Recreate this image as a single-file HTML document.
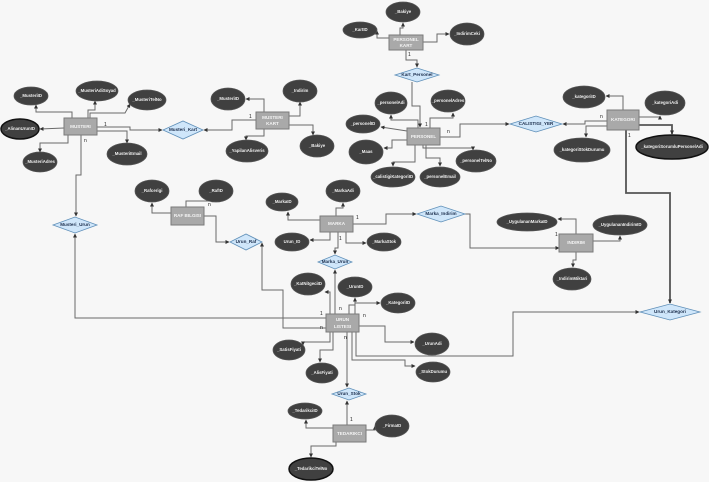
<!DOCTYPE html>
<html><head><meta charset="utf-8"><style>
html,body{margin:0;padding:0;background:#f7f7f7;}
svg{display:block;}
.l{fill:none;stroke:#6a6a6a;stroke-width:1;marker-end:url(#a);}
.t{fill:none;stroke:#555;stroke-width:1.8;marker-end:url(#a);}
.e{fill:#404040;stroke:#555;stroke-width:0.8;}
.eb{fill:#404040;stroke:#111;stroke-width:1.5;}
.et{font:bold 4.3px "Liberation Sans",sans-serif;fill:#eee;text-anchor:middle;dominant-baseline:middle;}
.r{fill:#a9a9a9;stroke:#7a7a7a;stroke-width:1;}
.rt{font:bold 4.6px "Liberation Sans",sans-serif;fill:#f4f4f4;text-anchor:middle;dominant-baseline:middle;}
.d{fill:#cfe6fa;stroke:#5f8fb8;stroke-width:0.8;}
.dt{font:bold 4.6px "Liberation Sans",sans-serif;fill:#1d2f4d;text-anchor:middle;dominant-baseline:middle;}
.c{font:5px "Liberation Sans",sans-serif;fill:#222;}
</style></head><body>
<svg width="709" height="482" viewBox="0 0 709 482" xmlns="http://www.w3.org/2000/svg">
<defs><marker id="a" markerWidth="4" markerHeight="4" refX="3.5" refY="2" orient="auto" markerUnits="userSpaceOnUse"><path d="M0,0L4,2L0,4z" fill="#333"/></marker></defs>

<!-- lines -->
<polyline class="l" points="72,118 72,112 36,112 36,105"/>
<polyline class="l" points="88,118 88,110 95,110 95,101"/>
<polyline class="l" points="90,118 90,113 125,113 130,104"/>
<polyline class="l" points="64,128 40,129"/>
<polyline class="l" points="68,135 68,143 40,143 40,152"/>
<polyline class="l" points="97,131 127,131 127,143"/>
<polyline class="l" points="97,127 130,127 130,130 162,130"/>
<polyline class="l" points="264,112 264,99 246,99"/>
<polyline class="l" points="289,116 300,116 300,102"/>
<polyline class="l" points="289,125 313,125 313,135"/>
<polyline class="l" points="264,129 264,136 246,136 246,140"/>
<polyline class="l" points="256,120 232,120 232,130 204,130"/>
<polyline class="l" points="81,135 81,175 76,175 76,216"/>
<polyline class="l" points="326,318 75,318 75,234"/>
<polyline class="l" points="171,213 152,213 152,203"/>
<polyline class="l" points="186,207 186,201 212,201 212,202"/>
<polyline class="l" points="204,216 216,216 216,242 229,242"/>
<polyline class="l" points="326,328 283,328 283,290 262,290 262,243"/>
<polyline class="l" points="320,220 288,220 288,212"/>
<polyline class="l" points="336,216 336,208 343,208 343,203"/>
<polyline class="l" points="330,232 330,240 310,240"/>
<polyline class="l" points="346,232 346,243 366,243"/>
<polyline class="l" points="338,232 338,248 335,248 335,254"/>
<polyline class="l" points="353,224 386,224 386,214 416,214"/>
<polyline class="l" points="465,214 470,214 470,248 559,248"/>
<polyline class="l" points="335,314 335,270"/>
<polyline class="l" points="330,314 330,292 325,292"/>
<polyline class="l" points="349,314 349,305 355,305 355,298"/>
<polyline class="l" points="355,314 355,303 380,303"/>
<polyline class="l" points="359,326 385,326 385,342 414,342"/>
<polyline class="l" points="352,332 352,360 405,360 405,366 415,366"/>
<polyline class="l" points="330,332 330,342 303,342 303,345"/>
<polyline class="l" points="333,332 333,350 320,350 320,362"/>
<polyline class="l" points="347,332 347,387"/>
<polyline class="l" points="347,425 347,401"/>
<polyline class="l" points="356,332 356,356 513,356 513,312 639,312"/>
<polyline class="l" points="333,428 306,428 306,420"/>
<polyline class="l" points="366,430 375,430 375,426"/>
<polyline class="l" points="336,442 336,446 311,446 311,457"/>
<polyline class="l" points="389,38 377,38 377,31"/>
<polyline class="l" points="400,35 400,28 403,28 403,23"/>
<polyline class="l" points="423,42 437,42 437,34 449,34"/>
<polyline class="l" points="406,50 406,60 417,60 417,67"/>
<polyline class="l" points="412,82 412,106 420,106 420,127"/>
<polyline class="l" points="418,128 418,120 391,120 391,115"/>
<polyline class="l" points="430,128 430,118 453,118 453,113"/>
<polyline class="l" points="407,131 381,127"/>
<polyline class="l" points="407,140 392,140 392,148 384,148"/>
<polyline class="l" points="423,145 423,148 473,148 473,150"/>
<polyline class="l" points="415,145 415,162 393,162 393,166"/>
<polyline class="l" points="426,145 426,158 440,158 440,166"/>
<polyline class="l" points="440,137 460,137 460,124 509,124"/>
<polyline class="l" points="607,121 585,121 585,124 563,124"/>
<polyline class="l" points="623,110 623,96 606,96"/>
<polyline class="l" points="639,117 660,117 660,116"/>
<polyline class="l" points="607,126 586,126 586,137"/>
<polyline class="t" points="639,125 672,125 672,134"/>
<polyline class="t" points="626,130 626,193 670,193 670,303"/>
<polyline class="l" points="576,234 576,219 558,219"/>
<polyline class="l" points="593,241 620,241 620,236"/>
<polyline class="l" points="576,252 576,260 573,260 573,267"/>

<!-- cardinalities -->
<text class="c" x="104" y="126">1</text><text class="c" x="84" y="142">n</text>
<text class="c" x="249" y="118">1</text><text class="c" x="208" y="206">n</text>
<text class="c" x="320" y="315">1</text><text class="c" x="320" y="329">n</text>
<text class="c" x="356" y="219">1</text><text class="c" x="339" y="240">1</text>
<text class="c" x="339" y="310">n</text><text class="c" x="363" y="317">n</text>
<text class="c" x="344" y="339">n</text><text class="c" x="350" y="421">1</text>
<text class="c" x="408" y="56">1</text><text class="c" x="425" y="126">1</text>
<text class="c" x="447" y="133">n</text><text class="c" x="600" y="118">n</text>
<text class="c" x="628" y="137">1</text><text class="c" x="555" y="236">1</text>

<!-- diamonds -->
<polygon class="d" points="163,130 183,121 203,130 183,139"/><text class="dt" x="183" y="130">Musteri_Kart</text>
<polygon class="d" points="53,225 75,217 97,225 75,233"/><text class="dt" x="75" y="225">Musteri_Urun</text>
<polygon class="d" points="230,242 246,234 262,242 246,250"/><text class="dt" x="246" y="242">Urun_Raf</text>
<polygon class="d" points="318,262 335,255 352,262 335,269"/><text class="dt" x="335" y="262">Marka_Urun</text>
<polygon class="d" points="417,214 441,206 465,214 441,222"/><text class="dt" x="441" y="214">Marka_Indirim</text>
<polygon class="d" points="332,394 349,388 366,394 349,400"/><text class="dt" x="349" y="394">Urun_Stok</text>
<polygon class="d" points="395,75 417,68 439,75 417,82"/><text class="dt" x="417" y="75">Kart_Personel</text>
<polygon class="d" points="510,124 536,116 562,124 536,132"/><text class="dt" x="536" y="124">CALISTIGI_YER</text>
<polygon class="d" points="640,312 670,304 700,312 670,320"/><text class="dt" x="670" y="312">Urun_Kategori</text>

<!-- entities -->
<rect class="r" x="64" y="118" width="33" height="17"/><text class="rt" x="80.5" y="127">MUSTERI</text>
<rect class="r" x="256" y="112" width="33" height="17"/><text class="rt" x="272.5" y="118">MUSTERI</text><text class="rt" x="272.5" y="124">KART</text>
<rect class="r" x="171" y="207" width="33" height="18"/><text class="rt" x="187.5" y="216">RAF BILGISI</text>
<rect class="r" x="320" y="216" width="33" height="16"/><text class="rt" x="336.5" y="224">MARKA</text>
<rect class="r" x="326" y="314" width="33" height="18"/><text class="rt" x="342.5" y="320">URUN</text><text class="rt" x="342.5" y="327">LISTESI</text>
<rect class="r" x="333" y="425" width="33" height="17"/><text class="rt" x="349.5" y="434">TEDARIKCI</text>
<rect class="r" x="389" y="35" width="34" height="15"/><text class="rt" x="406" y="40">PERSONEL</text><text class="rt" x="406" y="46">KART</text>
<rect class="r" x="407" y="128" width="33" height="17"/><text class="rt" x="423.5" y="137">PERSONEL</text>
<rect class="r" x="607" y="110" width="32" height="20"/><text class="rt" x="623" y="120">KATEGORI</text>
<rect class="r" x="559" y="234" width="34" height="18"/><text class="rt" x="576" y="243">INDIRIM</text>

<!-- attributes -->
<ellipse class="e" cx="31" cy="96" rx="17" ry="9"/><text class="et" x="31" y="96">_MusteriID</text>
<ellipse class="e" cx="97" cy="91" rx="21" ry="10"/><text class="et" x="97" y="91">_MusteriAdiSoyad</text>
<ellipse class="e" cx="147" cy="100" rx="19" ry="10"/><text class="et" x="147" y="100">_MusteriTelNo</text>
<ellipse class="eb" cx="20" cy="129" rx="19" ry="10"/><text class="et" x="20" y="129">_AlinanUrunID</text>
<ellipse class="e" cx="40" cy="162" rx="17" ry="10"/><text class="et" x="40" y="162">_MusteriAdres</text>
<ellipse class="e" cx="127" cy="154" rx="20" ry="11"/><text class="et" x="127" y="154">_MusteriEmail</text>
<ellipse class="e" cx="228" cy="99" rx="17" ry="11"/><text class="et" x="228" y="99">_MusteriID</text>
<ellipse class="e" cx="300" cy="91" rx="17" ry="11"/><text class="et" x="300" y="91">_Indirim</text>
<ellipse class="e" cx="317" cy="146" rx="17" ry="11"/><text class="et" x="317" y="146">_Bakiye</text>
<ellipse class="e" cx="247" cy="151" rx="21" ry="11"/><text class="et" x="247" y="151">_YapilanAlisveris</text>
<ellipse class="e" cx="152" cy="191" rx="17" ry="11"/><text class="et" x="152" y="191">_Rafcerigi</text>
<ellipse class="e" cx="216" cy="191" rx="17" ry="11"/><text class="et" x="216" y="191">_RafID</text>
<ellipse class="e" cx="282" cy="202" rx="16" ry="9"/><text class="et" x="282" y="202">_MarkaID</text>
<ellipse class="e" cx="343" cy="191" rx="17" ry="11"/><text class="et" x="343" y="191">_MarkaAdi</text>
<ellipse class="e" cx="292" cy="242" rx="17" ry="9"/><text class="et" x="292" y="242">Urun_ID</text>
<ellipse class="e" cx="384" cy="242" rx="17" ry="9"/><text class="et" x="384" y="242">_MarkaStok</text>
<ellipse class="e" cx="308" cy="284" rx="17" ry="11"/><text class="et" x="308" y="284">_KatNitgeciID</text>
<ellipse class="e" cx="355" cy="287" rx="17" ry="10"/><text class="et" x="355" y="287">_UrunID</text>
<ellipse class="e" cx="398" cy="303" rx="17" ry="10"/><text class="et" x="398" y="303">_KategoriID</text>
<ellipse class="e" cx="432" cy="344" rx="17" ry="11"/><text class="et" x="432" y="344">_UrunAdi</text>
<ellipse class="e" cx="433" cy="372" rx="17" ry="10"/><text class="et" x="433" y="372">_StokDurumu</text>
<ellipse class="e" cx="289" cy="350" rx="16" ry="10"/><text class="et" x="289" y="350">_SatisFiyati</text>
<ellipse class="e" cx="322" cy="373" rx="16" ry="10"/><text class="et" x="322" y="373">_AlisFiyati</text>
<ellipse class="e" cx="305" cy="411" rx="17" ry="8"/><text class="et" x="305" y="411">_TedarikciID</text>
<ellipse class="e" cx="392" cy="426" rx="17" ry="11"/><text class="et" x="392" y="426">_FirmaID</text>
<ellipse class="eb" cx="311" cy="469" rx="22" ry="11"/><text class="et" x="311" y="469">_TedarikciTelNo</text>
<ellipse class="e" cx="360" cy="30" rx="17" ry="8"/><text class="et" x="360" y="30">_KartID</text>
<ellipse class="e" cx="403" cy="12" rx="17" ry="10"/><text class="et" x="403" y="12">_Bakiye</text>
<ellipse class="e" cx="467" cy="34" rx="17" ry="11"/><text class="et" x="467" y="34">_IndirimCeki</text>
<ellipse class="e" cx="391" cy="103" rx="16" ry="11"/><text class="et" x="391" y="103">_personelAdi</text>
<ellipse class="e" cx="448" cy="101" rx="17" ry="11"/><text class="et" x="448" y="101">_personelAdres</text>
<ellipse class="e" cx="363" cy="124" rx="17" ry="9"/><text class="et" x="363" y="124">_personelID</text>
<ellipse class="e" cx="366" cy="152" rx="17" ry="12"/><text class="et" x="366" y="152">_Maas</text>
<ellipse class="e" cx="476" cy="161" rx="20" ry="11"/><text class="et" x="476" y="161">_personelTelNo</text>
<ellipse class="e" cx="393" cy="177" rx="22" ry="10"/><text class="et" x="393" y="177">_calistigiKategoriID</text>
<ellipse class="e" cx="440" cy="177" rx="20" ry="10"/><text class="et" x="440" y="177">_personelEmail</text>
<ellipse class="e" cx="584" cy="97" rx="21" ry="11"/><text class="et" x="584" y="97">_kategoriID</text>
<ellipse class="e" cx="665" cy="103" rx="20" ry="12"/><text class="et" x="665" y="103">_kategoriAdi</text>
<ellipse class="e" cx="582" cy="150" rx="28" ry="12"/><text class="et" x="582" y="150">_kategoriStokDurumu</text>
<ellipse class="eb" cx="672" cy="147" rx="36" ry="12"/><text class="et" x="672" y="147">_kategoriSorumluPersonelAdi</text>
<ellipse class="e" cx="527" cy="222" rx="30" ry="9"/><text class="et" x="527" y="222">_UygulananMarkaID</text>
<ellipse class="e" cx="620" cy="225" rx="27" ry="10"/><text class="et" x="620" y="225">_UygulananIndirimID</text>
<ellipse class="e" cx="572" cy="279" rx="19" ry="11"/><text class="et" x="572" y="279">_IndirimMiktari</text>
</svg>
</body></html>
